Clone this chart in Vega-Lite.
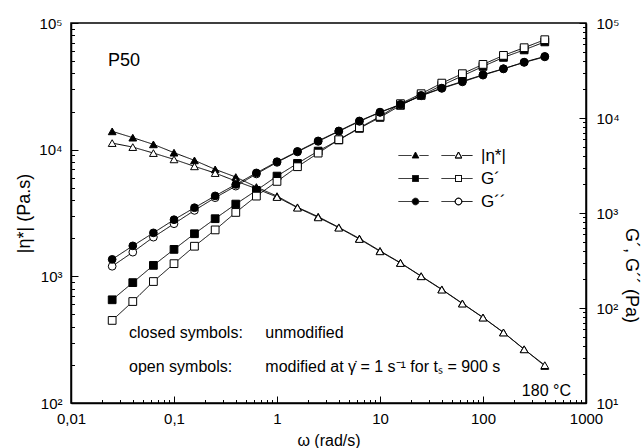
{
  "$schema": "https://vega.github.io/schema/vega-lite/v6.json",
  "width": 515,
  "height": 380,
  "autosize": {"type": "none"},
  "padding": {"left": 71, "top": 23, "right": 58, "bottom": 45},
  "background": "white",
  "config": {
    "view": {"stroke": "black", "strokeWidth": 1.5},
    "font": "Liberation Sans",
    "axis": {"grid": false, "domainColor": "black", "domainWidth": 1.5, "tickColor": "black", "tickWidth": 1, "labelColor": "black", "titleColor": "black", "labelFont": "Liberation Sans", "titleFont": "Liberation Sans", "titleFontWeight": "normal", "labelFontSize": 15, "titleFontSize": 17, "labelOverlap": false, "labelBound": false, "labelFlush": false},
    "legend": {"padding": 0, "rowPadding": 5, "labelFont": "Liberation Sans", "labelFontSize": 17, "labelColor": "black", "symbolSize": 4, "symbolOffset": 30, "labelOffset": 37}
  },
  "data": {"values": [
    {"w":0.0251,"q":"eta","s":"closed","v":13950},{"w":0.0398,"q":"eta","s":"closed","v":12440},{"w":0.0631,"q":"eta","s":"closed","v":11010},{"w":0.1,"q":"eta","s":"closed","v":9470},{"w":0.158,"q":"eta","s":"closed","v":8230},{"w":0.251,"q":"eta","s":"closed","v":6990},{"w":0.398,"q":"eta","s":"closed","v":6080},{"w":0.631,"q":"eta","s":"closed","v":5070},{"w":1,"q":"eta","s":"closed","v":4300},{"w":1.58,"q":"eta","s":"closed","v":3510},{"w":2.51,"q":"eta","s":"closed","v":2960},{"w":3.98,"q":"eta","s":"closed","v":2440},{"w":6.31,"q":"eta","s":"closed","v":1990},{"w":10,"q":"eta","s":"closed","v":1590},{"w":15.8,"q":"eta","s":"closed","v":1280},{"w":25.1,"q":"eta","s":"closed","v":1005},{"w":39.8,"q":"eta","s":"closed","v":790},{"w":63.1,"q":"eta","s":"closed","v":612},{"w":100,"q":"eta","s":"closed","v":474},{"w":158,"q":"eta","s":"closed","v":361},{"w":251,"q":"eta","s":"closed","v":266},{"w":398,"q":"eta","s":"closed","v":196},
    {"w":0.0251,"q":"eta","s":"open","v":11270},{"w":0.0398,"q":"eta","s":"open","v":10480},{"w":0.0631,"q":"eta","s":"open","v":9400},{"w":0.1,"q":"eta","s":"open","v":8380},{"w":0.158,"q":"eta","s":"open","v":7385},{"w":0.251,"q":"eta","s":"open","v":6535},{"w":0.398,"q":"eta","s":"open","v":5650},{"w":0.631,"q":"eta","s":"open","v":4920},{"w":1,"q":"eta","s":"open","v":4225},{"w":1.58,"q":"eta","s":"open","v":3480},{"w":2.51,"q":"eta","s":"open","v":2920},{"w":3.98,"q":"eta","s":"open","v":2420},{"w":6.31,"q":"eta","s":"open","v":1970},{"w":10,"q":"eta","s":"open","v":1575},{"w":15.8,"q":"eta","s":"open","v":1273},{"w":25.1,"q":"eta","s":"open","v":1000},{"w":39.8,"q":"eta","s":"open","v":785},{"w":63.1,"q":"eta","s":"open","v":609},{"w":100,"q":"eta","s":"open","v":472},{"w":158,"q":"eta","s":"open","v":360},{"w":251,"q":"eta","s":"open","v":265},{"w":398,"q":"eta","s":"open","v":199},
    {"w":0.0251,"q":"G1","s":"closed","v":122},{"w":0.0398,"q":"G1","s":"closed","v":185},{"w":0.0631,"q":"G1","s":"closed","v":281},{"w":0.1,"q":"G1","s":"closed","v":414},{"w":0.158,"q":"G1","s":"closed","v":605},{"w":0.251,"q":"G1","s":"closed","v":871},{"w":0.398,"q":"G1","s":"closed","v":1241},{"w":0.631,"q":"G1","s":"closed","v":1729},{"w":1,"q":"G1","s":"closed","v":2446},{"w":1.58,"q":"G1","s":"closed","v":3327},{"w":2.51,"q":"G1","s":"closed","v":4483},{"w":3.98,"q":"G1","s":"closed","v":5880},{"w":6.31,"q":"G1","s":"closed","v":7780},{"w":10,"q":"G1","s":"closed","v":10150},{"w":15.8,"q":"G1","s":"closed","v":13580},{"w":25.1,"q":"G1","s":"closed","v":17290},{"w":39.8,"q":"G1","s":"closed","v":22040},{"w":63.1,"q":"G1","s":"closed","v":27740},{"w":100,"q":"G1","s":"closed","v":34920},{"w":158,"q":"G1","s":"closed","v":43450},{"w":251,"q":"G1","s":"closed","v":52100},{"w":398,"q":"G1","s":"closed","v":63240},
    {"w":0.0251,"q":"G1","s":"open","v":74},{"w":0.0398,"q":"G1","s":"open","v":117},{"w":0.0631,"q":"G1","s":"open","v":190},{"w":0.1,"q":"G1","s":"open","v":293},{"w":0.158,"q":"G1","s":"open","v":447},{"w":0.251,"q":"G1","s":"open","v":664},{"w":0.398,"q":"G1","s":"open","v":1014},{"w":0.631,"q":"G1","s":"open","v":1506},{"w":1,"q":"G1","s":"open","v":2151},{"w":1.58,"q":"G1","s":"open","v":3071},{"w":2.51,"q":"G1","s":"open","v":4271},{"w":3.98,"q":"G1","s":"open","v":5911},{"w":6.31,"q":"G1","s":"open","v":7900},{"w":10,"q":"G1","s":"open","v":10390},{"w":15.8,"q":"G1","s":"open","v":14150},{"w":25.1,"q":"G1","s":"open","v":18020},{"w":39.8,"q":"G1","s":"open","v":23290},{"w":63.1,"q":"G1","s":"open","v":29270},{"w":100,"q":"G1","s":"open","v":36660},{"w":158,"q":"G1","s":"open","v":45600},{"w":251,"q":"G1","s":"open","v":54950},{"w":398,"q":"G1","s":"open","v":66700},
    {"w":0.0251,"q":"G2","s":"open","v":275},{"w":0.0398,"q":"G2","s":"open","v":387},{"w":0.0631,"q":"G2","s":"open","v":557},{"w":0.1,"q":"G2","s":"open","v":771},{"w":0.158,"q":"G2","s":"open","v":1065},{"w":0.251,"q":"G2","s":"open","v":1449},{"w":0.398,"q":"G2","s":"open","v":1919},{"w":0.631,"q":"G2","s":"open","v":2576},{"w":1,"q":"G2","s":"open","v":3410},{"w":1.58,"q":"G2","s":"open","v":4397},{"w":2.51,"q":"G2","s":"open","v":5670},{"w":3.98,"q":"G2","s":"open","v":7230},{"w":6.31,"q":"G2","s":"open","v":9210},{"w":10,"q":"G2","s":"open","v":11450},{"w":15.8,"q":"G2","s":"open","v":13800},{"w":25.1,"q":"G2","s":"open","v":17100},{"w":39.8,"q":"G2","s":"open","v":20500},{"w":63.1,"q":"G2","s":"open","v":23990},{"w":100,"q":"G2","s":"open","v":28230},{"w":158,"q":"G2","s":"open","v":32870},{"w":251,"q":"G2","s":"open","v":38460},{"w":398,"q":"G2","s":"open","v":43970},
    {"w":0.0251,"q":"G2","s":"closed","v":325},{"w":0.0398,"q":"G2","s":"closed","v":451},{"w":0.0631,"q":"G2","s":"closed","v":618},{"w":0.1,"q":"G2","s":"closed","v":850},{"w":0.158,"q":"G2","s":"closed","v":1137},{"w":0.251,"q":"G2","s":"closed","v":1514},{"w":0.398,"q":"G2","s":"closed","v":2000},{"w":0.631,"q":"G2","s":"closed","v":2642},{"w":1,"q":"G2","s":"closed","v":3467},{"w":1.58,"q":"G2","s":"closed","v":4450},{"w":2.51,"q":"G2","s":"closed","v":5740},{"w":3.98,"q":"G2","s":"closed","v":7310},{"w":6.31,"q":"G2","s":"closed","v":9310},{"w":10,"q":"G2","s":"closed","v":11530},{"w":15.8,"q":"G2","s":"closed","v":13900},{"w":25.1,"q":"G2","s":"closed","v":17290},{"w":39.8,"q":"G2","s":"closed","v":20650},{"w":63.1,"q":"G2","s":"closed","v":24270},{"w":100,"q":"G2","s":"closed","v":28560},{"w":158,"q":"G2","s":"closed","v":33030},{"w":251,"q":"G2","s":"closed","v":38740},{"w":398,"q":"G2","s":"closed","v":44490}
  ]},
  "layer": [
    {
      "layer": [
        {
          "transform": [{"filter": "datum.q === 'eta'"}],
          "mark": {"type": "line", "color": "black", "strokeWidth": 1},
          "encoding": {
            "x": {"field": "w", "type": "quantitative", "scale": {"type": "log", "domain": [0.01, 1000]},
              "axis": {"orient": "bottom", "values": [0.01,0.02,0.03,0.04,0.05,0.06,0.07,0.08,0.09,0.1,0.2,0.3,0.4,0.5,0.6,0.7,0.8,0.9,1,2,3,4,5,6,7,8,9,10,20,30,40,50,60,70,80,90,100,200,300,400,500,600,700,800,900,1000],
                "labelExpr": "abs(log(datum.value)/LN10 - round(log(datum.value)/LN10)) < 0.001 ? replace(format(datum.value, '~g'), '.', ',') : ''",
                "tickSize": -7,
                "tickDash": {"condition": {"test": "abs(log(datum.value)/LN10 - round(log(datum.value)/LN10)) < 0.001", "value": [8, 0]}, "value": [3.5, 20]},
                "labelPadding": 15, "title": "ω (rad/s)", "titleFontSize": 16, "titleY": 37, "titleBaseline": "middle"}},
            "y": {"field": "v", "type": "quantitative", "scale": {"type": "log", "domain": [100, 100000]},
              "axis": {"orient": "left", "values": [100,200,300,400,500,600,700,800,900,1000,2000,3000,4000,5000,6000,7000,8000,9000,10000,20000,30000,40000,50000,60000,70000,80000,90000,100000],
                "labelExpr": "abs(log(datum.value)/LN10 - round(log(datum.value)/LN10)) < 0.001 ? '10' + ['⁰','¹','²','³','⁴','⁵'][round(log(datum.value)/LN10)] : ''",
                "tickSize": -7,
                "tickDash": {"condition": {"test": "abs(log(datum.value)/LN10 - round(log(datum.value)/LN10)) < 0.001", "value": [8, 0]}, "value": [3.5, 20]},
                "labelPadding": 16, "title": "|η*|  (Pa.s)", "titleFontSize": 18, "titleX": -47, "titleY": 190, "titleAngle": 270, "titleAlign": "center", "titleBaseline": "middle"}},
            "detail": {"field": "s", "type": "nominal"},
            "strokeDash": {
              "field": "q", "type": "nominal",
              "scale": {"domain": ["eta", "G1", "G2"], "range": [[1, 0], [1, 0], [1, 0]]},
              "legend": {
                "title": null, "orient": "none", "legendX": 326, "legendY": 124,
                "labelExpr": "datum.value === 'eta' ? '|η*|' : datum.value === 'G1' ? 'G´' : 'G´´'",
                "symbolFillColor": "black",
                "symbolStrokeColor": "black",
                "symbolStrokeWidth": 1,
                "symbolOpacity": 1,
                "symbolType": {"expr": "datum.value === 'eta' ? 'M-37,0H-24 M-16,0H-7 M-20,-3.5L-16.7,2.5H-23.3Z M6,0H19.7 M26.3,0H37 M23,-3.5L26.3,2.5H19.7Z M23,-3.5L19.7,2.5H26.3Z' : datum.value === 'G1' ? 'M-37,0H-23 M-17,0H-7 M-23,-3H-17V3H-23Z M6,0H20 M26,0H37 M20,-3H26V3H20Z M20,-3V3H26V-3Z' : 'M-37,0H-23.3 M-16.7,0H-7 M-23.3,0A3.3,3.3,0,1,1,-16.7,0A3.3,3.3,0,1,1,-23.3,0Z M6,0H19.7 M26.3,0H37 M19.7,0A3.3,3.3,0,1,1,26.3,0A3.3,3.3,0,1,1,19.7,0Z M19.7,0A3.3,3.3,0,1,0,26.3,0A3.3,3.3,0,1,0,19.7,0Z'"}
              }
            }
          }
        },
        {
          "transform": [{"filter": "datum.q === 'eta'"}],
          "mark": {"type": "point", "filled": true, "size": 60, "stroke": "black", "strokeWidth": 1, "opacity": 1},
          "encoding": {
            "x": {"field": "w", "type": "quantitative", "scale": {"type": "log", "domain": [0.01, 1000]}},
            "y": {"field": "v", "type": "quantitative", "scale": {"type": "log", "domain": [100, 100000]}},
            "shape": {"field": "q", "type": "nominal", "scale": {"domain": ["G2", "G1", "eta"], "range": ["circle", "square", "triangle-up"]}, "legend": null},
            "fill": {"field": "s", "type": "nominal", "scale": {"domain": ["closed", "open"], "range": ["black", "white"]}, "legend": null}
          }
        },
        {
          "data": {"values": [{"t": "P50"}]},
          "mark": {"type": "text", "align": "left", "baseline": "middle", "fontSize": 18, "font": "Liberation Sans", "color": "black"},
          "encoding": {"x": {"datum": 0.0229, "type": "quantitative"}, "y": {"datum": 49800, "type": "quantitative"}, "text": {"field": "t", "type": "nominal"}}
        },
        {
          "data": {"values": [{"t": "closed symbols:"}]},
          "mark": {"type": "text", "align": "left", "baseline": "middle", "fontSize": 16, "font": "Liberation Sans", "color": "black"},
          "encoding": {"x": {"datum": 0.0366, "type": "quantitative"}, "y": {"datum": 355, "type": "quantitative"}, "text": {"field": "t", "type": "nominal"}}
        },
        {
          "data": {"values": [{"t": "unmodified"}]},
          "mark": {"type": "text", "align": "left", "baseline": "middle", "fontSize": 16, "font": "Liberation Sans", "color": "black"},
          "encoding": {"x": {"datum": 0.77, "type": "quantitative"}, "y": {"datum": 355, "type": "quantitative"}, "text": {"field": "t", "type": "nominal"}}
        },
        {
          "data": {"values": [{"t": "open symbols:"}]},
          "mark": {"type": "text", "align": "left", "baseline": "middle", "fontSize": 16, "font": "Liberation Sans", "color": "black"},
          "encoding": {"x": {"datum": 0.0366, "type": "quantitative"}, "y": {"datum": 191, "type": "quantitative"}, "text": {"field": "t", "type": "nominal"}}
        },
        {
          "data": {"values": [{"t": "modified at γ̇ = 1 s⁻¹ for tₛ = 900 s"}]},
          "mark": {"type": "text", "align": "left", "baseline": "middle", "fontSize": 16, "font": "Liberation Sans", "color": "black"},
          "encoding": {"x": {"datum": 0.77, "type": "quantitative"}, "y": {"datum": 191, "type": "quantitative"}, "text": {"field": "t", "type": "nominal"}}
        },
        {
          "data": {"values": [{"t": "180 °C"}]},
          "mark": {"type": "text", "align": "right", "baseline": "middle", "fontSize": 16, "font": "Liberation Sans", "color": "black"},
          "encoding": {"x": {"datum": 714, "type": "quantitative"}, "y": {"datum": 123.6, "type": "quantitative"}, "text": {"field": "t", "type": "nominal"}}
        }
      ]
    },
    {
      "transform": [{"filter": "datum.q !== 'eta'"}],
      "layer": [
        {
          "mark": {"type": "line", "color": "black", "strokeWidth": 1},
          "encoding": {
            "x": {"field": "w", "type": "quantitative", "scale": {"type": "log", "domain": [0.01, 1000]}},
            "y": {"field": "v", "type": "quantitative", "scale": {"type": "log", "domain": [10, 100000]},
              "axis": {"orient": "right", "values": [10,20,30,40,50,60,70,80,90,100,200,300,400,500,600,700,800,900,1000,2000,3000,4000,5000,6000,7000,8000,9000,10000,20000,30000,40000,50000,60000,70000,80000,90000,100000],
                "labelExpr": "abs(log(datum.value)/LN10 - round(log(datum.value)/LN10)) < 0.001 ? '10' + ['⁰','¹','²','³','⁴','⁵'][round(log(datum.value)/LN10)] : ''",
                "tickSize": -7,
                "tickDash": {"condition": {"test": "abs(log(datum.value)/LN10 - round(log(datum.value)/LN10)) < 0.001", "value": [8, 0]}, "value": [3.5, 20]},
                "labelPadding": 17, "title": "G´, G´´ (Pa)", "titleFontSize": 18, "titleX": 44, "titleY": 252, "titleAngle": 90, "titleAlign": "center", "titleBaseline": "middle"}},
            "detail": [{"field": "q", "type": "nominal"}, {"field": "s", "type": "nominal"}],
            "strokeDash": {"field": "q", "type": "nominal", "scale": {"domain": ["eta", "G1", "G2"], "range": [[1, 0], [1, 0], [1, 0]]}, "legend": null}
          }
        },
        {
          "mark": {"type": "point", "filled": true, "size": 60, "stroke": "black", "strokeWidth": 1, "opacity": 1},
          "encoding": {
            "x": {"field": "w", "type": "quantitative", "scale": {"type": "log", "domain": [0.01, 1000]}},
            "y": {"field": "v", "type": "quantitative", "scale": {"type": "log", "domain": [10, 100000]}},
            "shape": {"field": "q", "type": "nominal", "scale": {"domain": ["G2", "G1", "eta"], "range": ["circle", "square", "triangle-up"]}, "legend": null},
            "fill": {"field": "s", "type": "nominal", "scale": {"domain": ["closed", "open"], "range": ["black", "white"]}, "legend": null}
          }
        }
      ]
    }
  ],
  "resolve": {"scale": {"y": "independent"}}
}
